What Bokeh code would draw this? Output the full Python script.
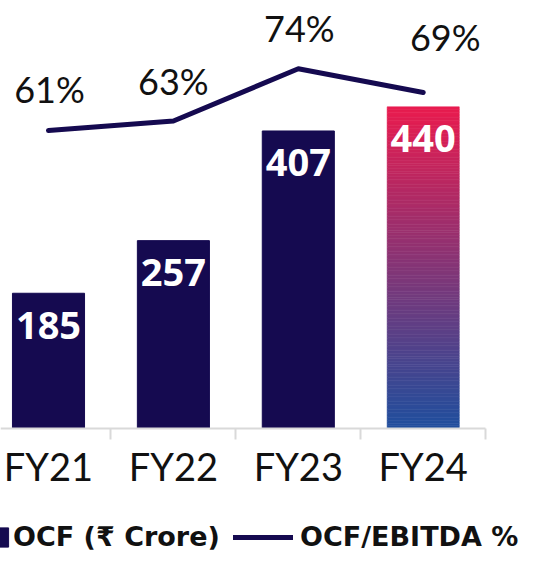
from bokeh.plotting import figure
from bokeh.models import (Range1d, LinearAxis, FixedTicker, Legend, LegendItem,
                          ColumnDataSource)
from bokeh.core.properties import value
from bokeh.embed import file_html
from bokeh.resources import INLINE

# ---------------- data ----------------
categories = ["FY21", "FY22", "FY23", "FY24"]
ocf = [185, 257, 407, 440]                 # OCF (₹ Crore)
ocf_ebitda_pct = [61, 63, 74, 69]          # OCF/EBITDA %

# ---------------- styles ----------------
NAVY = "#150A50"
GRAD_TOP = "#E91C4F"
GRAD_BOTTOM = "#1F4F9E"
AXIS_GREY = "#D9D9D9"
TEXT = "#111111"
HIGHLIGHT = 3                   # index of the gradient bar
BAR_W = 0.577
PCT_DX = [1, 0, 1, 22]          # label nudges (screen px)
PCT_DY = [-42, -40, -41, -56]

W, H = 530, 553
xs = list(range(len(categories)))

p = figure(width=W, height=H, output_backend="svg", toolbar_location=None,
           x_range=Range1d(-0.3843, 3.859), y_range=Range1d(-171.0, 585.5),
           x_axis_location=None, y_axis_location=None, min_border=0)
p.extra_y_ranges = {"pct": Range1d(-28.05, 88.37)}
p.outline_line_color = None
p.grid.visible = False
p.background_fill_color = "white"
p.border_fill_color = "white"

# navy bars
nav_idx = [i for i in xs if i != HIGHLIGHT]
bars = p.vbar(x=[xs[i] for i in nav_idx], top=[ocf[i] for i in nav_idx],
              width=BAR_W, fill_color=NAVY, line_color=NAVY)


# gradient bar (stack of thin slices)
def _hex(c):
    return [int(c[i:i + 2], 16) for i in (1, 3, 5)]


def _lerp(c0, c1, t):
    a, b = _hex(c0), _hex(c1)
    return "#%02x%02x%02x" % tuple(round(a[k] + (b[k] - a[k]) * t) for k in range(3))


N = 120
v = ocf[HIGHLIGHT]
g_bottom = [v * k / N for k in range(N)]
g_top = [v * (k + 1) / N for k in range(N)]
g_col = [_lerp(GRAD_BOTTOM, GRAD_TOP, (k + 0.5) / N) for k in range(N)]
p.vbar(x=[xs[HIGHLIGHT]] * N, bottom=g_bottom, top=g_top, width=BAR_W,
       fill_color=g_col, line_color=g_col, line_width=0.6)

# bar value labels
p.text(x=xs, y=ocf, text=[str(t) for t in ocf], text_color="white",
       text_font=value("Open Sans"), text_font_style="bold",
       text_font_size="38px", text_align="center", text_baseline="middle",
       y_offset=32)

# line
line = p.line(xs, ocf_ebitda_pct, y_range_name="pct", line_width=5,
              line_color=NAVY, line_cap="round", line_join="round")

# percentage labels
pct_src = ColumnDataSource(dict(x=xs, y=ocf_ebitda_pct,
                                t=[f"{t}%" for t in ocf_ebitda_pct],
                                dx=PCT_DX, dy=PCT_DY))
p.text(x="x", y="y", text="t", source=pct_src, y_range_name="pct",
       x_offset="dx", y_offset="dy", text_color=TEXT,
       text_font=value("Lato"), text_font_size="36px",
       text_align="center", text_baseline="middle")

# category axis at y = 0
ax = LinearAxis(fixed_location=0,
                ticker=FixedTicker(ticks=xs, minor_ticks=[i + 0.5 for i in xs]),
                major_label_overrides={i: c for i, c in zip(xs, categories)},
                bounds=(-0.5, len(xs) - 0.5))
ax.axis_line_color = AXIS_GREY
ax.axis_line_width = 2
ax.major_tick_line_color = None
ax.major_tick_in = 0
ax.major_tick_out = 0
ax.minor_tick_line_color = AXIS_GREY
ax.minor_tick_line_width = 2
ax.minor_tick_in = 0
ax.minor_tick_out = 11
ax.major_label_text_font = "Lato"
ax.major_label_text_font_size = "38px"
ax.major_label_text_color = TEXT
ax.major_label_standoff = 4
p.add_layout(ax, "below")

# legends
common = dict(orientation="horizontal", padding=0, margin=0, spacing=0,
              border_line_color=None, background_fill_alpha=0,
              label_text_font="DejaVu Sans", label_text_font_style="bold",
              label_text_font_size="27px", label_text_color=TEXT)
leg1 = Legend(items=[LegendItem(label=value("OCF (₹ Crore)"), renderers=[bars])],
              location=(-9, 1), glyph_width=19, glyph_height=24,
              label_standoff=3, **common)
leg2 = Legend(items=[LegendItem(label=value("OCF/EBITDA %"), renderers=[line])],
              location=(233, 1), glyph_width=60, glyph_height=24,
              label_standoff=7, **common)
p.add_layout(leg1)
p.add_layout(leg2)

open("out.html", "w").write(file_html(p, INLINE))
